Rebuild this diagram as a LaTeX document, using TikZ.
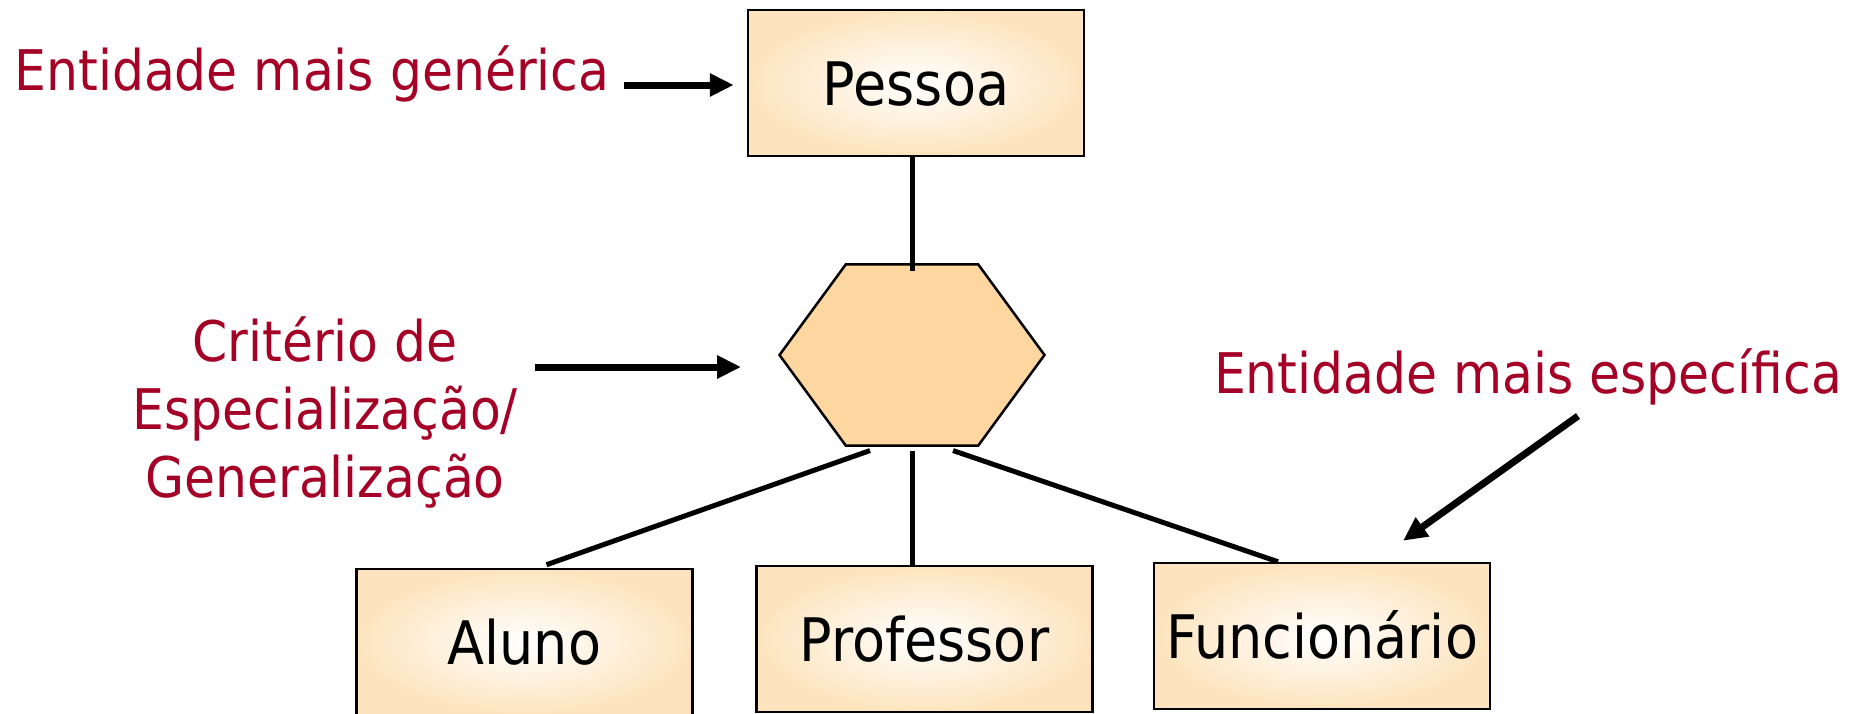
\documentclass[tikz,border=0pt]{standalone}
\usepackage{fontspec}
\setmainfont[FakeStretch=0.9]{DejaVu Sans}
\usetikzlibrary{arrows.meta,shapes.geometric}
\definecolor{notered}{RGB}{165,0,38}
\definecolor{boxorange}{RGB}{253,228,190}
\definecolor{hexorange}{RGB}{253,214,160}

\begin{document}
\begin{tikzpicture}[x=1pt,y=-1pt]
\tikzstyle{entity} = [rectangle, draw=black, line width=2.5pt, inner sep=0pt,
minimum width=336pt, minimum height=146pt, inner color=white, outer color=boxorange,
font=\fontsize{60}{72}\selectfont, text height=44pt, text depth=0pt]
\tikzstyle{criterion} = [regular polygon, regular polygon sides=6, draw=black,
line width=2.5pt, fill=hexorange, minimum size=265pt, inner sep=0pt,
yscale=0.789, transform shape]
\tikzstyle{note} = [text=notered, inner sep=0pt, align=center,
font=\fontsize{56}{68}\selectfont]
\tikzstyle{line} = [draw, line width=5pt];
\tikzstyle{pointer} = [draw, line width=7pt, -{Triangle[length=24pt,width=22pt]}];
\useasboundingbox (0,0) rectangle (1867,713);
% top
\node [entity] (pessoa) at (916,83) {Pessoa};
\node [criterion] (crit) at (912,355) {};
% bottom row
\node [entity] (aluno) at (524.5,642) {Aluno};
\node [entity] (professor) at (924.5,639) {Professor};
\node [entity] (funcionario) at (1322,636) {Funcionário};
% notes
\node [note, anchor=base] (generica) at (312,90) {Entidade mais genérica};
\node [note] (criterio) at (325,412) {Critério de\\Especialização/\\Generalização};
\node [note, anchor=base] (especifica) at (1528,393) {Entidade mais específica};

\path [line] (pessoa.south -| crit.north) -- ([yshift=-8pt]crit.north);
\path [line] ([xshift=-42pt,yshift=-4pt]crit.south) -- ([xshift=22pt,yshift=3pt]aluno.north);
\path [line] ([yshift=-4pt]crit.south) -- (crit.south |- professor.north);
\path [line] ([xshift=41pt,yshift=-4pt]crit.south) -- ([xshift=-44pt]funcionario.north);

\path [pointer] ([xshift=14pt,yshift=5pt]generica.base east) -- ([xshift=-13pt,yshift=-2pt]pessoa.west);
\path [pointer] ([xshift=17pt,yshift=45pt]criterio.east) -- ([xshift=-37pt,yshift=-12pt]crit.west);
\path [pointer] ([xshift=50pt,yshift=-23pt]especifica.base) -- ([xshift=81pt,yshift=21pt]funcionario.north);

\end{tikzpicture}
\end{document}
